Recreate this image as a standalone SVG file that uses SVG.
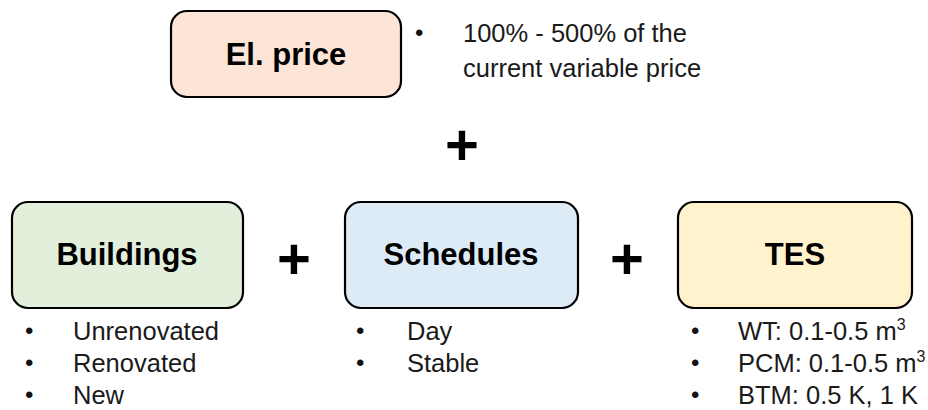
<svg xmlns="http://www.w3.org/2000/svg" width="928" height="410" viewBox="0 0 928 410">
<style>
.box{stroke:#000;stroke-width:2.2}
.title{font-family:"Liberation Sans",Arial,sans-serif;font-weight:bold;font-size:31px;fill:#000;text-anchor:middle}
.item{font-family:"Liberation Sans",Arial,sans-serif;font-size:25.5px;fill:#1a1a1a}
.bul{font-family:"Liberation Sans",Arial,sans-serif;font-size:24px;fill:#111}
.op{font-family:"Liberation Sans",Arial,sans-serif;font-weight:bold;font-size:58px;fill:#000;text-anchor:middle}
</style>
<rect width="928" height="410" fill="#fff"/>
<g id="el-price">
<rect class="box" x="171" y="11" width="230" height="86" rx="16" fill="#fce4d6"/>
<text class="title" x="286" y="65">El. price</text>
<text class="bul" x="415" y="41">•</text>
<text class="item" x="463" y="42">100% - 500% of the</text>
<text class="item" x="463" y="77">current variable price</text>
</g>
<g id="buildings">
<rect class="box" x="12" y="202" width="231" height="106" rx="16" fill="#e2efda"/>
<text class="title" x="127" y="265">Buildings</text>
<text class="bul" x="25" y="339">•</text>
<text class="item" x="73" y="340">Unrenovated</text>
<text class="bul" x="25" y="371">•</text>
<text class="item" x="73" y="372">Renovated</text>
<text class="bul" x="25" y="403">•</text>
<text class="item" x="73" y="404">New</text>
</g>
<g id="schedules">
<rect class="box" x="345" y="202" width="233" height="106" rx="16" fill="#ddebf7"/>
<text class="title" x="461" y="265">Schedules</text>
<text class="bul" x="356" y="339">•</text>
<text class="item" x="407" y="340">Day</text>
<text class="bul" x="356" y="371">•</text>
<text class="item" x="407" y="372">Stable</text>
</g>
<g id="tes">
<rect class="box" x="678" y="202" width="234" height="106" rx="16" fill="#fff2cc"/>
<text class="title" x="795" y="265">TES</text>
<text class="bul" x="691" y="339">•</text>
<text class="item" x="738" y="340">WT: 0.1-0.5 m<tspan font-size="16" dy="-10">3</tspan></text>
<text class="bul" x="691" y="371">•</text>
<text class="item" x="738" y="372">PCM: 0.1-0.5 m<tspan font-size="16" dy="-10">3</tspan></text>
<text class="bul" x="691" y="403">•</text>
<text class="item" x="738" y="404">BTM: 0.5 K, 1 K</text>
</g>
<g id="connectors">
<text class="op" x="462" y="165">+</text>
<text class="op" x="294" y="279">+</text>
<text class="op" x="627" y="279">+</text>
</g>
</svg>
